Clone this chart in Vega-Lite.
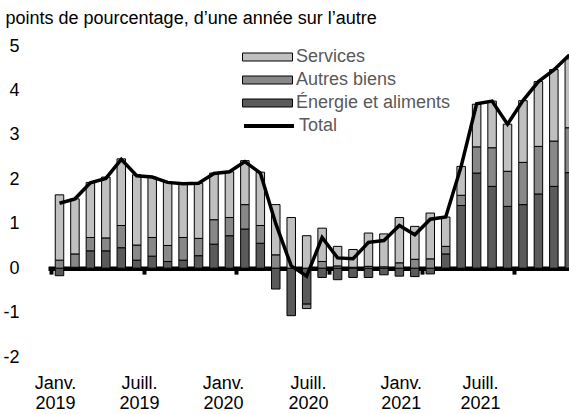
{
  "$schema": "https://vega.github.io/schema/vega-lite/v6.json",
  "width": 521,
  "height": 311,
  "autosize": {"type": "none"},
  "padding": {"left": 48, "top": 46, "right": 0, "bottom": 57},
  "background": "white",
  "config": {
    "font": "Liberation Sans",
    "view": {"stroke": null},
    "axisY": {
      "domain": false,
      "ticks": false,
      "tickSize": 0,
      "grid": false,
      "labelPadding": 29,
      "labelFontSize": 18,
      "labelColor": "black",
      "titleAngle": 0,
      "titleX": -43,
      "titleY": -23,
      "titleAlign": "left",
      "titleBaseline": "alphabetic",
      "titleFontSize": 18,
      "titleFontWeight": "normal",
      "titleColor": "black"
    }
  },
  "data": {
    "values": [
      {"month": "2019-01", "Énergie et aliments": -0.17, "Autres biens": 0.18, "Services": 1.47, "Total": 1.46},
      {"month": "2019-02", "Énergie et aliments": 0.02, "Autres biens": 0.30, "Services": 1.24, "Total": 1.56},
      {"month": "2019-03", "Énergie et aliments": 0.39, "Autres biens": 0.30, "Services": 1.24, "Total": 1.92},
      {"month": "2019-04", "Énergie et aliments": 0.39, "Autres biens": 0.29, "Services": 1.37, "Total": 2.02},
      {"month": "2019-05", "Énergie et aliments": 0.46, "Autres biens": 0.50, "Services": 1.50, "Total": 2.45},
      {"month": "2019-06", "Énergie et aliments": 0.18, "Autres biens": 0.34, "Services": 1.58, "Total": 2.08},
      {"month": "2019-07", "Énergie et aliments": 0.27, "Autres biens": 0.42, "Services": 1.36, "Total": 2.05},
      {"month": "2019-08", "Énergie et aliments": 0.15, "Autres biens": 0.36, "Services": 1.42, "Total": 1.93},
      {"month": "2019-09", "Énergie et aliments": 0.18, "Autres biens": 0.51, "Services": 1.21, "Total": 1.90},
      {"month": "2019-10", "Énergie et aliments": 0.28, "Autres biens": 0.39, "Services": 1.24, "Total": 1.91},
      {"month": "2019-11", "Énergie et aliments": 0.54, "Autres biens": 0.55, "Services": 1.05, "Total": 2.13},
      {"month": "2019-12", "Énergie et aliments": 0.73, "Autres biens": 0.41, "Services": 1.03, "Total": 2.17},
      {"month": "2020-01", "Énergie et aliments": 0.88, "Autres biens": 0.55, "Services": 0.99, "Total": 2.40},
      {"month": "2020-02", "Énergie et aliments": 0.56, "Autres biens": 0.40, "Services": 1.20, "Total": 2.14},
      {"month": "2020-03", "Énergie et aliments": -0.47, "Autres biens": 0.30, "Services": 1.13, "Total": 1.00},
      {"month": "2020-04", "Énergie et aliments": -1.07, "Autres biens": 0.00, "Services": 1.14, "Total": 0.05},
      {"month": "2020-05", "Énergie et aliments": -0.81, "Autres biens": -0.10, "Services": 0.73, "Total": -0.18},
      {"month": "2020-06", "Énergie et aliments": -0.21, "Autres biens": 0.15, "Services": 0.75, "Total": 0.69},
      {"month": "2020-07", "Énergie et aliments": -0.26, "Autres biens": 0.05, "Services": 0.44, "Total": 0.23},
      {"month": "2020-08", "Énergie et aliments": -0.21, "Autres biens": 0.02, "Services": 0.40, "Total": 0.21},
      {"month": "2020-09", "Énergie et aliments": -0.21, "Autres biens": 0.04, "Services": 0.75, "Total": 0.58},
      {"month": "2020-10", "Énergie et aliments": -0.15, "Autres biens": 0.03, "Services": 0.74, "Total": 0.62},
      {"month": "2020-11", "Énergie et aliments": -0.18, "Autres biens": 0.12, "Services": 1.02, "Total": 0.96},
      {"month": "2020-12", "Énergie et aliments": -0.19, "Autres biens": 0.20, "Services": 0.74, "Total": 0.75},
      {"month": "2021-01", "Énergie et aliments": -0.13, "Autres biens": 0.21, "Services": 1.03, "Total": 1.10},
      {"month": "2021-02", "Énergie et aliments": 0.32, "Autres biens": 0.17, "Services": 0.66, "Total": 1.15},
      {"month": "2021-03", "Énergie et aliments": 1.41, "Autres biens": 0.23, "Services": 0.65, "Total": 2.29},
      {"month": "2021-04", "Énergie et aliments": 2.14, "Autres biens": 0.59, "Services": 0.96, "Total": 3.70},
      {"month": "2021-05", "Énergie et aliments": 1.84, "Autres biens": 0.87, "Services": 1.05, "Total": 3.76},
      {"month": "2021-06", "Énergie et aliments": 1.39, "Autres biens": 0.79, "Services": 1.06, "Total": 3.24},
      {"month": "2021-07", "Énergie et aliments": 1.43, "Autres biens": 0.95, "Services": 1.39, "Total": 3.77},
      {"month": "2021-08", "Énergie et aliments": 1.67, "Autres biens": 1.07, "Services": 1.46, "Total": 4.20},
      {"month": "2021-09", "Énergie et aliments": 1.84, "Autres biens": 1.02, "Services": 1.61, "Total": 4.46},
      {"month": "2021-10", "Énergie et aliments": 2.15, "Autres biens": 1.01, "Services": 1.55, "Total": 4.80}
    ]
  },
  "encoding": {
    "x": {
      "field": "month",
      "type": "ordinal",
      "scale": {"paddingInner": 0.45, "paddingOuter": 0.469, "range": [0, 532.8]},
      "axis": {
        "title": null,
        "values": ["2019-01", "2019-07", "2020-01", "2020-07", "2021-01", "2021-07"],
        "labelExpr": "[substring(datum.value, 5, 7) == '01' ? 'Janv.' : 'Juill.', substring(datum.value, 0, 4)]",
        "labelAngle": 0,
        "offset": -88.857,
        "domainColor": "black",
        "domainWidth": 4.5,
        "tickColor": "black",
        "tickWidth": 4,
        "tickSize": 6,
        "tickOffset": -8.5,
        "labelOffset": {"expr": "datum.value == '2019-01' ? 4 : datum.value == '2019-07' ? -4.7 : datum.value == '2020-01' ? -13.4 : datum.value == '2020-07' ? -21 : datum.value == '2021-01' ? -21 : -34.5"},
        "labelPadding": 100.5,
        "labelFontSize": 18,
        "labelLineHeight": 20,
        "labelBaseline": "top",
        "labelColor": "black"
      }
    }
  },
  "layer": [
    {
      "transform": [
        {"fold": ["Énergie et aliments", "Autres biens", "Services"], "as": ["component", "value"]},
        {"calculate": "indexof(['Énergie et aliments', 'Autres biens', 'Services'], datum.component)", "as": "ord"}
      ],
      "mark": {"type": "bar", "stroke": "black", "strokeWidth": 1, "clip": true},
      "encoding": {
        "y": {
          "field": "value",
          "type": "quantitative",
          "stack": "zero",
          "title": "points de pourcentage, d’une année sur l’autre",
          "scale": {"domain": [-2, 5], "nice": false},
          "axis": {"values": [-2, -1, 0, 1, 2, 3, 4, 5], "labelExpr": "datum.value < 0 ? '-' + abs(datum.value) : '' + datum.value"}
        },
        "fill": {
          "field": "component",
          "type": "nominal",
          "scale": {
            "domain": ["Services", "Autres biens", "Énergie et aliments"],
            "range": ["#c0c0c0", "#888888", "#5a5a5a"]
          },
          "legend": {
            "title": null,
            "orient": "none",
            "legendX": 194,
            "legendY": 2,
            "symbolType": "M-1,-0.16H1V0.16H-1Z",
            "symbolSize": 2500,
            "symbolStrokeColor": "black",
            "symbolStrokeWidth": 1,
            "symbolOpacity": 1,
            "clipHeight": 18,
            "rowPadding": 5,
            "labelFontSize": 18,
            "labelColor": "#595959",
            "labelOffset": 3
          }
        },
        "order": {"field": "ord", "type": "quantitative"}
      }
    },
    {
      "mark": {"type": "line", "strokeWidth": 3.5, "clip": true},
      "encoding": {
        "y": {
          "field": "Total",
          "type": "quantitative",
          "title": "points de pourcentage, d’une année sur l’autre",
          "scale": {"domain": [-2, 5], "nice": false},
          "axis": {"values": [-2, -1, 0, 1, 2, 3, 4, 5], "labelExpr": "datum.value < 0 ? '-' + abs(datum.value) : '' + datum.value"}
        },
        "stroke": {
          "datum": "Total",
          "scale": {"range": ["black"]},
          "legend": {
            "title": null,
            "orient": "none",
            "legendX": 194,
            "legendY": 71,
            "symbolType": "stroke",
            "symbolSize": 2500,
            "symbolStrokeWidth": 4,
            "clipHeight": 18,
            "labelFontSize": 18,
            "labelColor": "#595959",
            "labelOffset": 3
          }
        }
      }
    }
  ]
}
